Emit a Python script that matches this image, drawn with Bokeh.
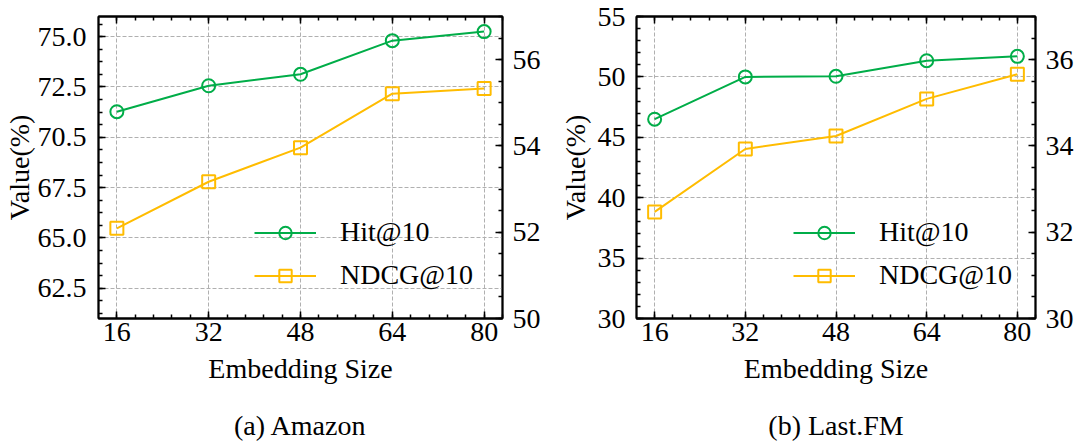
import numpy as np
from bokeh.plotting import figure
from bokeh.models import (Range1d, LinearAxis, FixedTicker, Legend, LegendItem,
                          PrintfTickFormatter)
from bokeh.layouts import row
from bokeh.embed import file_html
from bokeh.resources import INLINE

# ---------------- data ----------------
embedding_sizes = [16, 32, 48, 64, 80]

amazon_hit = [71.27, 72.56, 73.13, 74.80, 75.25]
amazon_ndcg = [52.09, 53.17, 53.96, 55.21, 55.33]

lastfm_hit = [46.50, 50.00, 50.05, 51.34, 51.70]
lastfm_ndcg = [32.47, 33.93, 34.23, 35.09, 35.66]

series_names = ["Hit@10", "NDCG@10"]
captions = ["(a) Amazon", "(b) Last.FM"]

x_ticks = [16, 32, 48, 64, 80]
amazon_left_ticks = [62.5, 65.0, 67.5, 70.0, 72.5, 75.0]
amazon_left_label_overrides = {70.0: "70.5"}
amazon_right_ticks = [50, 52, 54, 56]
lastfm_left_ticks = [30, 35, 40, 45, 50, 55]
lastfm_right_ticks = [30, 32, 34, 36]

# ---------------- style ----------------
FONT = "Liberation Serif"
FS = "28px"
GREEN = "#00AD48"
YELLOW = "#FFBC00"
GRID = "#b0b0b0"


def minor(ticks, n, lo, hi):
    step = (ticks[1] - ticks[0]) / n
    start = ticks[0] - step * np.floor((ticks[0] - lo) / step)
    vals = np.arange(start, hi + 1e-9, step)
    return [float(v) for v in vals]


def style_axis(ax, ticker, label_standoff):
    ax.ticker = ticker
    ax.major_tick_in = 7
    ax.major_tick_out = 0
    ax.minor_tick_in = 4
    ax.minor_tick_out = 0
    ax.major_tick_line_width = 1.5
    ax.minor_tick_line_width = 1.5
    ax.major_tick_line_color = "black"
    ax.minor_tick_line_color = "black"
    ax.axis_line_width = 1.8
    ax.axis_line_color = "black"
    ax.major_label_text_font = FONT
    ax.major_label_text_font_size = FS
    ax.major_label_text_color = "black"
    ax.major_label_standoff = label_standoff
    ax.axis_label_text_color = "black"


def make_panel(hit, ndcg, xr, yl, yr, left_ticks, left_minor_n, right_ticks,
               right_minor_n, left_fmt, left_over, caption, width, bl, br,
               legend_loc, ylab_standoff, yticklab_standoff):
    p = figure(width=width, height=443, x_range=Range1d(*xr), y_range=Range1d(*yl),
               output_backend="svg", toolbar_location=None,
               min_border_left=bl, min_border_right=br, min_border_top=16,
               min_border_bottom=124)
    p.background_fill_color = "white"
    p.border_fill_color = "white"
    p.outline_line_color = "black"
    p.outline_line_width = 1.8

    xt = FixedTicker(ticks=x_ticks, minor_ticks=minor(x_ticks, 5, xr[0], xr[1]))
    ylt = FixedTicker(ticks=left_ticks, minor_ticks=minor(left_ticks, left_minor_n, yl[0], yl[1]))
    yrt = FixedTicker(ticks=right_ticks, minor_ticks=minor(right_ticks, right_minor_n, yr[0], yr[1]))

    style_axis(p.xaxis[0], xt, 4)
    p.xaxis.axis_label = "Embedding Size"
    p.xaxis.axis_label_text_font = FONT
    p.xaxis.axis_label_text_font_size = FS
    p.xaxis.axis_label_text_font_style = "normal"
    p.xaxis.axis_label_standoff = 9

    style_axis(p.yaxis[0], ylt, yticklab_standoff)
    p.yaxis.formatter = left_fmt
    if left_over:
        p.yaxis.major_label_overrides = left_over
    p.yaxis.axis_label = "Value(%)"
    p.yaxis.axis_label_text_font = FONT
    p.yaxis.axis_label_text_font_size = FS
    p.yaxis.axis_label_text_font_style = "normal"
    p.yaxis.axis_label_standoff = ylab_standoff

    # top axis: ticks only (inward), no visible labels
    top = LinearAxis()
    style_axis(top, xt, 0)
    top.major_label_text_font_size = "1px"
    top.major_label_text_color = None
    p.add_layout(top, "above")

    # caption below the x axis: an unlabelled, tickless axis carrying the caption text
    cap = LinearAxis(ticker=FixedTicker(ticks=[]), axis_line_color=None,
                     major_tick_line_color=None, minor_tick_line_color=None,
                     major_tick_in=0, major_tick_out=0, minor_tick_in=0, minor_tick_out=0,
                     major_label_text_font_size="1px", major_label_text_color=None,
                     major_label_standoff=0,
                     axis_label=caption, axis_label_text_font=FONT,
                     axis_label_text_font_size=FS, axis_label_text_font_style="normal",
                     axis_label_text_color="black", axis_label_standoff=23)
    p.add_layout(cap, "below")

    p.extra_y_ranges = {"r": Range1d(*yr)}
    rax = LinearAxis(y_range_name="r")
    style_axis(rax, yrt, 10)
    p.add_layout(rax, "right")

    for g in (p.xgrid[0], p.ygrid[0]):
        g.grid_line_color = GRID
        g.grid_line_dash = "4 2"
        g.grid_line_width = 1
    p.xgrid.ticker = xt
    p.ygrid.ticker = ylt

    l1 = p.line(embedding_sizes, hit, color=GREEN, line_width=2)
    s1 = p.scatter(embedding_sizes, hit, marker="circle", size=13, line_color=GREEN,
                   line_width=2, fill_alpha=0)
    l2 = p.line(embedding_sizes, ndcg, color=YELLOW, line_width=2, y_range_name="r")
    s2 = p.scatter(embedding_sizes, ndcg, marker="square", size=13, line_color=YELLOW,
                   line_width=2, fill_alpha=0, y_range_name="r")

    leg = Legend(items=[LegendItem(label=series_names[0], renderers=[l1, s1]),
                        LegendItem(label=series_names[1], renderers=[l2, s2])],
                 location=legend_loc, padding=0, margin=0, spacing=11,
                 glyph_width=62, glyph_height=31, label_height=31, label_standoff=24,
                 label_text_font=FONT, label_text_font_size=FS,
                 label_text_color="black",
                 background_fill_alpha=0, border_line_alpha=0)
    p.add_layout(leg, "center")
    return p


p1 = make_panel(amazon_hit, amazon_ndcg, (12.8, 83.2), (61, 76), (50, 57),
                amazon_left_ticks, 4, amazon_right_ticks, 4,
                PrintfTickFormatter(format="%.1f"), amazon_left_label_overrides,
                captions[0], 556, 95, 54, (156, 27), 0, 12)
p2 = make_panel(lastfm_hit, lastfm_ndcg, (12.8, 83.2), (30, 55), (30, 37),
                lastfm_left_ticks, 5, lastfm_right_ticks, 4,
                PrintfTickFormatter(format="%d"), None,
                captions[1], 520, 74, 40, (157, 27), 4, 11)

layout = row(p1, p2)
open("out.html", "w").write(file_html(layout, INLINE))
